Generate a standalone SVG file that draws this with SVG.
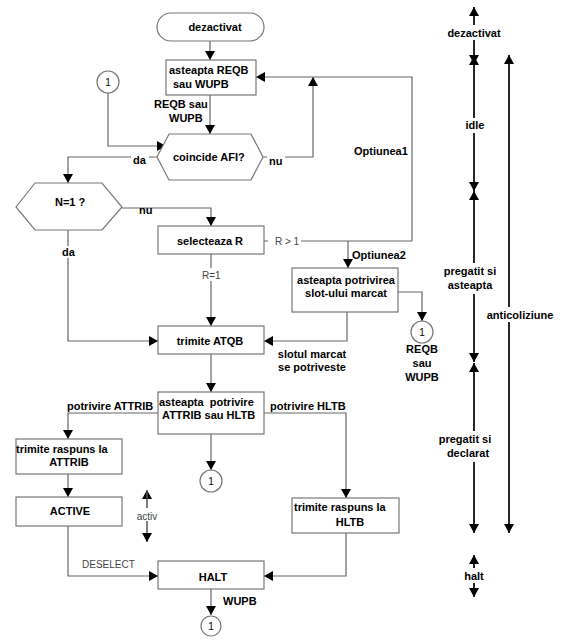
<svg xmlns="http://www.w3.org/2000/svg" width="578" height="641" viewBox="0 0 578 641">
<defs>
<marker id="arr" viewBox="0 0 9 10" markerWidth="9" markerHeight="10" refX="9" refY="5" orient="auto" markerUnits="userSpaceOnUse">
<path d="M0,0 L9,5 L0,10 z" fill="#000"/>
</marker>
<style>
.box{fill:#fff;stroke:#777;stroke-width:1.2}
.ln{fill:none;stroke:#666;stroke-width:1.2}
.ax{fill:none;stroke:#000;stroke-width:1.2}
.t{font-family:"Liberation Sans",Arial,sans-serif;font-size:11px;font-weight:bold;fill:#000}
.r{font-family:"Liberation Sans",Arial,sans-serif;font-size:10px;fill:#444}
.c{font-family:"Liberation Sans",Arial,sans-serif;font-size:10px;fill:#000}
.m{text-anchor:middle}
.ah{fill:#000}
</style>
</defs>
<rect width="578" height="641" fill="#fff"/>

<g id="connectors">
<path class="ln" d="M210,41 V60" marker-end="url(#arr)"/>
<path class="ln" d="M210,95 V134" marker-end="url(#arr)"/>
<path class="ln" d="M108,93 V146 H166" marker-end="url(#arr)"/>
<path class="ln" d="M157,157 H68 V183" marker-end="url(#arr)"/>
<path class="ln" d="M263,157 H313 V77" marker-end="url(#arr)"/>
<path class="ln" d="M412,241 V77 H256" marker-end="url(#arr)"/>
<path class="ln" d="M264,241 H412"/>
<path class="ln" d="M348,241 V268" marker-end="url(#arr)"/>
<path class="ln" d="M122,208 H211 V226" marker-end="url(#arr)"/>
<path class="ln" d="M211,254 V326" marker-end="url(#arr)"/>
<path class="ln" d="M68,230 V341 H158" marker-end="url(#arr)"/>
<path class="ln" d="M398,292 H422 V321" marker-end="url(#arr)"/>
<path class="ln" d="M347,312 V341 H264" marker-end="url(#arr)"/>
<path class="ln" d="M211,354 V392" marker-end="url(#arr)"/>
<path class="ln" d="M158,413 H68 V439" marker-end="url(#arr)"/>
<path class="ln" d="M264,413 H346 V498" marker-end="url(#arr)"/>
<path class="ln" d="M211,434 V470" marker-end="url(#arr)"/>
<path class="ln" d="M68,474 V497" marker-end="url(#arr)"/>
<path class="ln" d="M68,526 V576 H158" marker-end="url(#arr)"/>
<path class="ln" d="M346,533 V576 H264" marker-end="url(#arr)"/>
<path class="ln" d="M211,589 V615" marker-end="url(#arr)"/>
<!-- activ -->
<path class="ln" d="M147,542 V490" marker-end="url(#arr)"/>
<path class="ln" d="M147,490 V542" marker-end="url(#arr)"/>
<!-- right axis -->
<path class="ax" d="M474,64 V7" marker-end="url(#arr)"/>
<path class="ax" d="M474,7 V64" marker-end="url(#arr)"/>
<path class="ax" d="M474,191 V56" marker-end="url(#arr)"/>
<path class="ax" d="M474,56 V191" marker-end="url(#arr)"/>
<path class="ax" d="M474,362 V191" marker-end="url(#arr)"/>
<path class="ax" d="M474,191 V362" marker-end="url(#arr)"/>
<path class="ax" d="M474,533 V363" marker-end="url(#arr)"/>
<path class="ax" d="M474,363 V533" marker-end="url(#arr)"/>
<path class="ax" d="M474,597 V555" marker-end="url(#arr)"/>
<path class="ax" d="M474,555 V597" marker-end="url(#arr)"/>
<path class="ax" d="M509,533 V55" marker-end="url(#arr)"/>
<path class="ax" d="M509,55 V533" marker-end="url(#arr)"/>
<!-- label backgrounds -->
<rect x="131" y="152" width="18" height="13" fill="#fff"/>
<rect x="267" y="152" width="18" height="14" fill="#fff"/>
<rect x="61" y="246" width="14" height="12" fill="#fff"/>
<rect x="268" y="236" width="33" height="11" fill="#fff"/>
<rect x="199" y="268" width="24" height="13" fill="#fff"/>
<rect x="135" y="508" width="26" height="13" fill="#fff"/>
<rect x="444" y="25" width="60" height="15" fill="#fff"/>
<rect x="462" y="118" width="26" height="15" fill="#fff"/>
<rect x="438" y="263" width="62" height="31" fill="#fff"/>
<rect x="434" y="431" width="62" height="31" fill="#fff"/>
<rect x="462" y="568" width="24" height="15" fill="#fff"/>
<rect x="485" y="307" width="70" height="15" fill="#fff"/>
</g>

<g id="dezactivat"><rect class="box" x="157" y="13" width="107" height="28" rx="14"/><text class="t m" x="215" y="31">dezactivat</text></g>
<g id="asteapta_reqb"><rect class="box" x="166" y="60" width="90" height="35"/><text class="t" x="169" y="74">asteapta REQB</text><text class="t" x="173" y="88">sau WUPB</text></g>
<g id="c1a"><circle class="box" cx="108" cy="82" r="11"/><text class="c m" x="108" y="86">1</text></g>
<g id="coincide"><polygon class="box" points="157,157 169,134 251,134 263,157 251,180 169,180"/><text class="t" x="173" y="161">coincide AFI?</text></g>
<g id="n1"><polygon class="box" points="16,207 35,183 102,183 122,207 102,230 35,230"/><text class="t" x="55" y="206">N=1 ?</text></g>
<g id="selecteaza"><rect class="box" x="158" y="226" width="106" height="28"/><text class="t m" x="210" y="245">selecteaza R</text></g>
<g id="asteapta_slot"><rect class="box" x="292" y="268" width="106" height="44"/><text class="t m" x="346" y="284">asteapta potrivirea</text><text class="t m" x="346" y="297">slot-ului marcat</text></g>
<g id="c1b"><circle class="box" cx="422" cy="332" r="11"/><text class="c m" x="422" y="336">1</text></g>
<g id="trimite_atqb"><rect class="box" x="158" y="326" width="106" height="28"/><text class="t m" x="210" y="345">trimite ATQB</text></g>
<g id="asteapta_attrib"><rect class="box" x="158" y="392" width="106" height="42"/><text class="t" x="159" y="406" xml:space="preserve">asteapta  potrivire</text><text class="t" x="162" y="419">ATTRIB sau HLTB</text></g>
<g id="c1c"><circle class="box" cx="211" cy="481" r="11"/><text class="c m" x="211" y="485">1</text></g>
<g id="raspuns_attrib"><rect class="box" x="16" y="439" width="106" height="35"/><text class="t" x="16" y="453">trimite raspuns la</text><text class="t m" x="69" y="466">ATTRIB</text></g>
<g id="active"><rect class="box" x="16" y="497" width="106" height="29"/><text class="t m" x="70" y="515">ACTIVE</text></g>
<g id="raspuns_hltb"><rect class="box" x="292" y="498" width="107" height="35"/><text class="t" x="294" y="511">trimite raspuns la</text><text class="t m" x="350" y="526">HLTB</text></g>
<g id="halt"><rect class="box" x="158" y="561" width="106" height="28"/><text class="t m" x="213" y="581">HALT</text></g>
<g id="c1d"><circle class="box" cx="211" cy="626" r="10"/><text class="c m" x="211" y="630">1</text></g>

<g id="labels">
<text class="t" x="154" y="108">REQB sau</text>
<text class="t" x="169" y="122">WUPB</text>
<text class="t" x="133" y="164">da</text>
<text class="t" x="269" y="165">nu</text>
<text class="t" x="354" y="155">Optiunea1</text>
<text class="t" x="139" y="214">nu</text>
<text class="r" x="275" y="245">R &gt; 1</text>
<text class="t" x="352" y="259">Optiunea2</text>
<text class="r" x="202" y="279">R=1</text>
<text class="t" x="62" y="256">da</text>
<text class="t m" x="312" y="358">slotul marcat</text>
<text class="t m" x="312" y="371">se potriveste</text>
<text class="t m" x="422" y="353">REQB</text>
<text class="t m" x="422" y="367">sau</text>
<text class="t m" x="422" y="381">WUPB</text>
<text class="t" x="67" y="410">potrivire ATTRIB</text>
<text class="t" x="270" y="410">potrivire HLTB</text>
<text class="r m" x="147" y="520">activ</text>
<text class="r" x="82" y="568">DESELECT</text>
<text class="t" x="223" y="605">WUPB</text>
<text class="t m" x="474" y="37">dezactivat</text>
<text class="t m" x="475" y="129">idle</text>
<text class="t m" x="470" y="275">pregatit si</text>
<text class="t m" x="470" y="289">asteapta</text>
<text class="t m" x="520" y="319">anticoliziune</text>
<text class="t m" x="465" y="443">pregatit si</text>
<text class="t m" x="468" y="457">declarat</text>
<text class="t m" x="474" y="580">halt</text>
</g>
</svg>
